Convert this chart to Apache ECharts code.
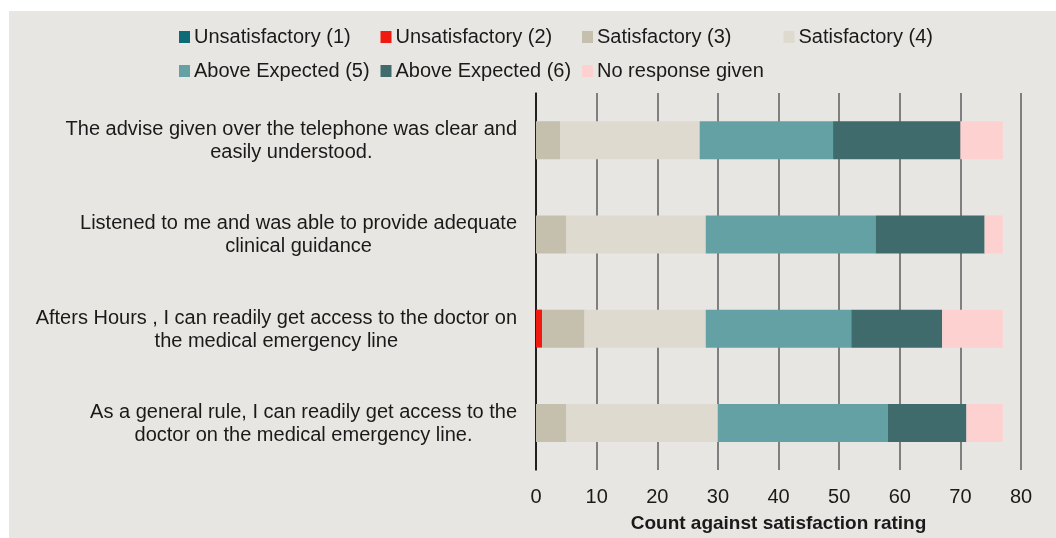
<!DOCTYPE html>
<html>
<head>
  <meta charset="UTF-8">
  <title>Satisfaction rating</title>
  <script src="https://cdn.jsdelivr.net/npm/echarts@6/dist/echarts.min.js"></script>
  <style>
    body { margin: 0; padding: 0; background: #fff; }
    #main { width: 1056px; height: 538px; }
  </style>
</head>
<body>
  <div id="main"></div>
  <script type="text/javascript">
    // questions, top to bottom
    var questions = [
      'The advise given over the telephone was clear and\neasily understood.',
      'Listened to me and was able to provide adequate\nclinical guidance',
      'Afters Hours , I can readily get access to the doctor on\nthe medical emergency line',
      'As a general rule, I can readily get access to the\ndoctor on the medical emergency line.'
    ];

    var ratingNames = [
      'Unsatisfactory (1)', 'Unsatisfactory (2)', 'Satisfactory (3)', 'Satisfactory (4)',
      'Above Expected (5)', 'Above Expected (6)', 'No response given'
    ];
    var ratingColors = ['#0d6a77', '#f01a10', '#c5bfad', '#dedacf', '#64a1a4', '#3f6b6c', '#fed1d1'];

    var unsat1 = [0, 0, 0, 0];
    var unsat2 = [0, 0, 1, 0];
    var sat3 = [4, 5, 7, 5];
    var sat4 = [23, 23, 20, 25];
    var above5 = [22, 28, 24, 28];
    var above6 = [21, 18, 15, 13];
    var noResponse = [7, 3, 10, 6];

    var xTicks = [0, 80, 10]; // min, max, interval

    var allValues = [unsat1, unsat2, sat3, sat4, above5, above6, noResponse];

    var font = '"Liberation Sans", Arial, sans-serif';

    var myChart = echarts.init(document.getElementById('main'));

    var series = ratingNames.map(function (name, i) {
      return {
        name: name,
        type: 'bar',
        stack: 'total',
        barWidth: 38,
        itemStyle: { color: ratingColors[i] },
        emphasis: { disabled: true },
        data: allValues[i]
      };
    });

    // one legend per item so they sit on a fixed 2-row grid like the original
    var legends = ratingNames.map(function (name, i) {
      var col = i < 4 ? i : i - 4;
      var row = i < 4 ? 0 : 1;
      return {
        data: [name],
        left: 179 + col * 201.5,
        top: 27 + row * 34,
        padding: 0,
        itemWidth: 11,
        itemHeight: 12,
        itemGap: 0,
        icon: 'rect',
        selectedMode: false,
        textStyle: { fontFamily: font, fontSize: 20, color: '#1a1a1a', padding: [0, 0, 0, -1] }
      };
    });

    var option = {
      backgroundColor: '#fff',
      animation: false,
      graphic: [{
        type: 'rect',
        left: 9,
        top: 11,
        z: -10,
        shape: { width: 1047, height: 527 },
        style: { fill: '#e8e6e2' },
        silent: true
      }],
      legend: legends,
      grid: {
        left: 536,
        right: 35,
        top: 93,
        bottom: 66
      },
      xAxis: {
        type: 'value',
        min: xTicks[0],
        max: xTicks[1],
        interval: xTicks[2],
        name: 'Count against satisfaction rating',
        nameLocation: 'middle',
        nameGap: 44,
        nameTextStyle: { fontFamily: font, fontSize: 19, fontWeight: 'bold', color: '#1a1a1a' },
        axisLine: { show: false },
        axisTick: { show: false },
        axisLabel: { fontFamily: font, fontSize: 20, color: '#1a1a1a', margin: 17 },
        splitLine: { show: true, lineStyle: { color: '#7f7f7f', width: 2 } }
      },
      yAxis: {
        type: 'category',
        inverse: true,
        data: questions,
        axisLine: { show: true, lineStyle: { color: '#000', width: 1.5 } },
        axisTick: { show: false },
        axisLabel: {
          fontFamily: font,
          fontSize: 20,
          color: '#1a1a1a',
          margin: 19,
          lineHeight: 23,
          formatter: function (value) {
            return value.split('\n').map(function (s) { return '{c|' + s + '}'; }).join('\n');
          },
          rich: {
            c: { align: 'center', fontFamily: font, fontSize: 20, color: '#1a1a1a', lineHeight: 23, padding: [2, 0, 0, 0] }
          }
        }
      },
      series: series
    };

    myChart.setOption(option);
  </script>
</body>
</html>
